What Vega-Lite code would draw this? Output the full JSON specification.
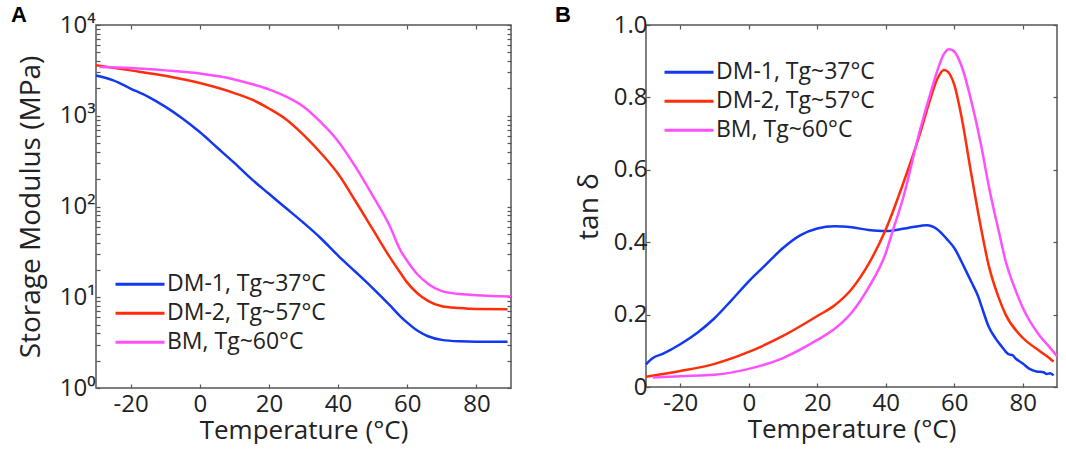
{
  "$schema": "https://vega.github.io/schema/vega-lite/v6.json",
  "background": "white",
  "padding": {"left": 10, "top": 3, "right": 0, "bottom": 0},
  "config": {
    "view": {"stroke": "#555555", "strokeWidth": 1.5},
    "font": "Open Sans",
    "axis": {
      "grid": false,
      "domain": false,
      "tickColor": "#555555",
      "tickWidth": 1.2,
      "tickSize": -4,
      "labelFont": "Open Sans",
      "labelFontSize": 24,
      "labelColor": "#222222",
      "titleFont": "Open Sans",
      "titleFontSize": 26,
      "titleFontWeight": "normal",
      "titleColor": "#222222"
    },
    "legend": {
      "symbolType": "stroke",
      "symbolStrokeWidth": 3,
      "symbolSize": 2400,
      "labelFont": "Open Sans",
      "labelFontSize": 23,
      "labelColor": "#222222",
      "labelOffset": 1,
      "rowPadding": 0,
      "clipHeight": 28.5,
      "padding": 0
    },
    "title": {"font": "Liberation Sans", "fontSize": 22, "fontWeight": "bold", "color": "#000000", "offset": -10}
  },
  "datasets": {
    "modulus": [
      {"sample": "DM-1, Tg~37°C", "T": -30, "E": 2780},
      {"sample": "DM-1, Tg~37°C", "T": -25, "E": 2455},
      {"sample": "DM-1, Tg~37°C", "T": -20, "E": 1995},
      {"sample": "DM-1, Tg~37°C", "T": -15, "E": 1622},
      {"sample": "DM-1, Tg~37°C", "T": -10, "E": 1259},
      {"sample": "DM-1, Tg~37°C", "T": -5, "E": 933},
      {"sample": "DM-1, Tg~37°C", "T": 0, "E": 661},
      {"sample": "DM-1, Tg~37°C", "T": 5, "E": 447},
      {"sample": "DM-1, Tg~37°C", "T": 10, "E": 302},
      {"sample": "DM-1, Tg~37°C", "T": 15, "E": 200},
      {"sample": "DM-1, Tg~37°C", "T": 20, "E": 138},
      {"sample": "DM-1, Tg~37°C", "T": 25, "E": 95.5},
      {"sample": "DM-1, Tg~37°C", "T": 30, "E": 66.1},
      {"sample": "DM-1, Tg~37°C", "T": 35, "E": 44.7},
      {"sample": "DM-1, Tg~37°C", "T": 40, "E": 28.8},
      {"sample": "DM-1, Tg~37°C", "T": 45, "E": 19.1},
      {"sample": "DM-1, Tg~37°C", "T": 50, "E": 12.6},
      {"sample": "DM-1, Tg~37°C", "T": 55, "E": 8.13},
      {"sample": "DM-1, Tg~37°C", "T": 58, "E": 6.17},
      {"sample": "DM-1, Tg~37°C", "T": 60, "E": 5.25},
      {"sample": "DM-1, Tg~37°C", "T": 63, "E": 4.27},
      {"sample": "DM-1, Tg~37°C", "T": 66, "E": 3.72},
      {"sample": "DM-1, Tg~37°C", "T": 70, "E": 3.39},
      {"sample": "DM-1, Tg~37°C", "T": 75, "E": 3.27},
      {"sample": "DM-1, Tg~37°C", "T": 80, "E": 3.24},
      {"sample": "DM-1, Tg~37°C", "T": 89, "E": 3.24},
      {"sample": "DM-2, Tg~57°C", "T": -30, "E": 3597},
      {"sample": "DM-2, Tg~57°C", "T": -20, "E": 3162},
      {"sample": "DM-2, Tg~57°C", "T": -10, "E": 2754},
      {"sample": "DM-2, Tg~57°C", "T": 0, "E": 2291},
      {"sample": "DM-2, Tg~57°C", "T": 10, "E": 1778},
      {"sample": "DM-2, Tg~57°C", "T": 15, "E": 1514},
      {"sample": "DM-2, Tg~57°C", "T": 20, "E": 1202},
      {"sample": "DM-2, Tg~57°C", "T": 25, "E": 912},
      {"sample": "DM-2, Tg~57°C", "T": 30, "E": 617},
      {"sample": "DM-2, Tg~57°C", "T": 35, "E": 389},
      {"sample": "DM-2, Tg~57°C", "T": 40, "E": 229},
      {"sample": "DM-2, Tg~57°C", "T": 45, "E": 115},
      {"sample": "DM-2, Tg~57°C", "T": 50, "E": 56.2},
      {"sample": "DM-2, Tg~57°C", "T": 55, "E": 27.5},
      {"sample": "DM-2, Tg~57°C", "T": 58, "E": 18.6},
      {"sample": "DM-2, Tg~57°C", "T": 60, "E": 14.5},
      {"sample": "DM-2, Tg~57°C", "T": 63, "E": 11.0},
      {"sample": "DM-2, Tg~57°C", "T": 66, "E": 9.12},
      {"sample": "DM-2, Tg~57°C", "T": 70, "E": 7.94},
      {"sample": "DM-2, Tg~57°C", "T": 75, "E": 7.59},
      {"sample": "DM-2, Tg~57°C", "T": 80, "E": 7.41},
      {"sample": "DM-2, Tg~57°C", "T": 89, "E": 7.36},
      {"sample": "BM, Tg~60°C", "T": -29, "E": 3443},
      {"sample": "BM, Tg~60°C", "T": -20, "E": 3350},
      {"sample": "BM, Tg~60°C", "T": -10, "E": 3162},
      {"sample": "BM, Tg~60°C", "T": 0, "E": 2917},
      {"sample": "BM, Tg~60°C", "T": 10, "E": 2512},
      {"sample": "BM, Tg~60°C", "T": 15, "E": 2239},
      {"sample": "BM, Tg~60°C", "T": 20, "E": 1950},
      {"sample": "BM, Tg~60°C", "T": 25, "E": 1622},
      {"sample": "BM, Tg~60°C", "T": 30, "E": 1259},
      {"sample": "BM, Tg~60°C", "T": 35, "E": 851},
      {"sample": "BM, Tg~60°C", "T": 40, "E": 525},
      {"sample": "BM, Tg~60°C", "T": 45, "E": 275},
      {"sample": "BM, Tg~60°C", "T": 50, "E": 132},
      {"sample": "BM, Tg~60°C", "T": 55, "E": 60.3},
      {"sample": "BM, Tg~60°C", "T": 58, "E": 33.1},
      {"sample": "BM, Tg~60°C", "T": 60, "E": 25.1},
      {"sample": "BM, Tg~60°C", "T": 63, "E": 17.8},
      {"sample": "BM, Tg~60°C", "T": 66, "E": 14.1},
      {"sample": "BM, Tg~60°C", "T": 68, "E": 12.6},
      {"sample": "BM, Tg~60°C", "T": 70, "E": 11.7},
      {"sample": "BM, Tg~60°C", "T": 73, "E": 11.1},
      {"sample": "BM, Tg~60°C", "T": 76, "E": 10.8},
      {"sample": "BM, Tg~60°C", "T": 80, "E": 10.5},
      {"sample": "BM, Tg~60°C", "T": 90, "E": 10.2}
    ],
    "tan": [
      {"sample": "DM-1, Tg~37°C", "T": -30, "d": 0.0625},
      {"sample": "DM-1, Tg~37°C", "T": -28, "d": 0.08},
      {"sample": "DM-1, Tg~37°C", "T": -25, "d": 0.092},
      {"sample": "DM-1, Tg~37°C", "T": -20, "d": 0.118},
      {"sample": "DM-1, Tg~37°C", "T": -15, "d": 0.15},
      {"sample": "DM-1, Tg~37°C", "T": -10, "d": 0.19},
      {"sample": "DM-1, Tg~37°C", "T": -5, "d": 0.24},
      {"sample": "DM-1, Tg~37°C", "T": 0, "d": 0.292},
      {"sample": "DM-1, Tg~37°C", "T": 5, "d": 0.338},
      {"sample": "DM-1, Tg~37°C", "T": 10, "d": 0.384},
      {"sample": "DM-1, Tg~37°C", "T": 15, "d": 0.419},
      {"sample": "DM-1, Tg~37°C", "T": 20, "d": 0.438},
      {"sample": "DM-1, Tg~37°C", "T": 25, "d": 0.444},
      {"sample": "DM-1, Tg~37°C", "T": 30, "d": 0.441},
      {"sample": "DM-1, Tg~37°C", "T": 35, "d": 0.434},
      {"sample": "DM-1, Tg~37°C", "T": 40, "d": 0.431},
      {"sample": "DM-1, Tg~37°C", "T": 45, "d": 0.437},
      {"sample": "DM-1, Tg~37°C", "T": 48, "d": 0.442},
      {"sample": "DM-1, Tg~37°C", "T": 52, "d": 0.447},
      {"sample": "DM-1, Tg~37°C", "T": 55, "d": 0.436},
      {"sample": "DM-1, Tg~37°C", "T": 58, "d": 0.407},
      {"sample": "DM-1, Tg~37°C", "T": 60, "d": 0.384},
      {"sample": "DM-1, Tg~37°C", "T": 63, "d": 0.329},
      {"sample": "DM-1, Tg~37°C", "T": 65, "d": 0.29},
      {"sample": "DM-1, Tg~37°C", "T": 67, "d": 0.25},
      {"sample": "DM-1, Tg~37°C", "T": 68, "d": 0.222},
      {"sample": "DM-1, Tg~37°C", "T": 70, "d": 0.168},
      {"sample": "DM-1, Tg~37°C", "T": 72, "d": 0.135},
      {"sample": "DM-1, Tg~37°C", "T": 74, "d": 0.11},
      {"sample": "DM-1, Tg~37°C", "T": 75, "d": 0.098},
      {"sample": "DM-1, Tg~37°C", "T": 76, "d": 0.09},
      {"sample": "DM-1, Tg~37°C", "T": 77, "d": 0.088},
      {"sample": "DM-1, Tg~37°C", "T": 78, "d": 0.078},
      {"sample": "DM-1, Tg~37°C", "T": 80, "d": 0.065},
      {"sample": "DM-1, Tg~37°C", "T": 82, "d": 0.05},
      {"sample": "DM-1, Tg~37°C", "T": 84, "d": 0.043},
      {"sample": "DM-1, Tg~37°C", "T": 86, "d": 0.041},
      {"sample": "DM-1, Tg~37°C", "T": 87, "d": 0.036},
      {"sample": "DM-1, Tg~37°C", "T": 88, "d": 0.038},
      {"sample": "DM-1, Tg~37°C", "T": 89, "d": 0.032},
      {"sample": "DM-2, Tg~57°C", "T": -30, "d": 0.0285},
      {"sample": "DM-2, Tg~57°C", "T": -20, "d": 0.044},
      {"sample": "DM-2, Tg~57°C", "T": -10, "d": 0.064},
      {"sample": "DM-2, Tg~57°C", "T": 0, "d": 0.097},
      {"sample": "DM-2, Tg~57°C", "T": 10, "d": 0.141},
      {"sample": "DM-2, Tg~57°C", "T": 20, "d": 0.196},
      {"sample": "DM-2, Tg~57°C", "T": 25, "d": 0.225},
      {"sample": "DM-2, Tg~57°C", "T": 30, "d": 0.27},
      {"sample": "DM-2, Tg~57°C", "T": 35, "d": 0.34},
      {"sample": "DM-2, Tg~57°C", "T": 40, "d": 0.435},
      {"sample": "DM-2, Tg~57°C", "T": 45, "d": 0.56},
      {"sample": "DM-2, Tg~57°C", "T": 50, "d": 0.70},
      {"sample": "DM-2, Tg~57°C", "T": 53, "d": 0.795},
      {"sample": "DM-2, Tg~57°C", "T": 55, "d": 0.85},
      {"sample": "DM-2, Tg~57°C", "T": 57, "d": 0.876},
      {"sample": "DM-2, Tg~57°C", "T": 58, "d": 0.872},
      {"sample": "DM-2, Tg~57°C", "T": 60, "d": 0.835},
      {"sample": "DM-2, Tg~57°C", "T": 62, "d": 0.752},
      {"sample": "DM-2, Tg~57°C", "T": 65, "d": 0.587},
      {"sample": "DM-2, Tg~57°C", "T": 68, "d": 0.43},
      {"sample": "DM-2, Tg~57°C", "T": 70, "d": 0.338},
      {"sample": "DM-2, Tg~57°C", "T": 73, "d": 0.246},
      {"sample": "DM-2, Tg~57°C", "T": 75, "d": 0.20},
      {"sample": "DM-2, Tg~57°C", "T": 80, "d": 0.136},
      {"sample": "DM-2, Tg~57°C", "T": 85, "d": 0.099},
      {"sample": "DM-2, Tg~57°C", "T": 88, "d": 0.078},
      {"sample": "DM-2, Tg~57°C", "T": 89, "d": 0.07},
      {"sample": "BM, Tg~60°C", "T": -28, "d": 0.026},
      {"sample": "BM, Tg~60°C", "T": -20, "d": 0.030},
      {"sample": "BM, Tg~60°C", "T": -10, "d": 0.034},
      {"sample": "BM, Tg~60°C", "T": 0, "d": 0.05},
      {"sample": "BM, Tg~60°C", "T": 10, "d": 0.08},
      {"sample": "BM, Tg~60°C", "T": 20, "d": 0.13},
      {"sample": "BM, Tg~60°C", "T": 25, "d": 0.16},
      {"sample": "BM, Tg~60°C", "T": 30, "d": 0.205},
      {"sample": "BM, Tg~60°C", "T": 35, "d": 0.275},
      {"sample": "BM, Tg~60°C", "T": 40, "d": 0.37},
      {"sample": "BM, Tg~60°C", "T": 42, "d": 0.43},
      {"sample": "BM, Tg~60°C", "T": 45, "d": 0.52},
      {"sample": "BM, Tg~60°C", "T": 50, "d": 0.71},
      {"sample": "BM, Tg~60°C", "T": 53, "d": 0.81},
      {"sample": "BM, Tg~60°C", "T": 55, "d": 0.872},
      {"sample": "BM, Tg~60°C", "T": 57, "d": 0.92},
      {"sample": "BM, Tg~60°C", "T": 58.5, "d": 0.933},
      {"sample": "BM, Tg~60°C", "T": 60, "d": 0.927},
      {"sample": "BM, Tg~60°C", "T": 62, "d": 0.89},
      {"sample": "BM, Tg~60°C", "T": 65, "d": 0.789},
      {"sample": "BM, Tg~60°C", "T": 68, "d": 0.66},
      {"sample": "BM, Tg~60°C", "T": 70, "d": 0.559},
      {"sample": "BM, Tg~60°C", "T": 73, "d": 0.43},
      {"sample": "BM, Tg~60°C", "T": 75, "d": 0.348},
      {"sample": "BM, Tg~60°C", "T": 78, "d": 0.265},
      {"sample": "BM, Tg~60°C", "T": 80, "d": 0.219},
      {"sample": "BM, Tg~60°C", "T": 85, "d": 0.141},
      {"sample": "BM, Tg~60°C", "T": 88, "d": 0.108},
      {"sample": "BM, Tg~60°C", "T": 90, "d": 0.085}
    ]
  },
  "resolve": {"scale": {"color": "independent"}, "legend": {"color": "independent"}},
  "spacing": 37,
  "hconcat": [
    {
      "width": 415,
      "height": 363,
      "title": {"text": "A", "anchor": "start", "frame": "group", "dx": -85, "dy": 4},
      "data": {"name": "modulus"},
      "layer": [
        {
          "mark": {"type": "line", "strokeWidth": 2.5, "interpolate": "monotone"},
          "encoding": {
            "x": {"field": "T", "type": "quantitative", "scale": {"domain": [-30, 90], "nice": false},
              "axis": {"orient": "bottom", "values": [-20, 0, 20, 40, 60, 80], "title": "Temperature (°C)", "labelPadding": 8, "titlePadding": 1,
                "labelExpr": "datum.value < 0 ? '-' + abs(datum.value) : '' + datum.value"}},
            "y": {"field": "E", "type": "quantitative", "scale": {"type": "log", "domain": [1, 10000], "nice": false},
              "axis": {"orient": "left", "values": [1,2,3,4,5,6,7,8,9,10,20,30,40,50,60,70,80,90,100,200,300,400,500,600,700,800,900,1000,2000,3000,4000,5000,6000,7000,8000,9000,10000],
                "labelExpr": "datum.value == 1 ? '10⁰' : datum.value == 10 ? '10¹' : datum.value == 100 ? '10²' : datum.value == 1000 ? '10³' : datum.value == 10000 ? '10⁴' : ''",
                "title": "Storage Modulus (MPa)", "titleFontSize": 28, "labelPadding": 5, "titlePadding": 14}},
            "color": {"field": "sample", "type": "nominal",
              "scale": {"domain": ["DM-1, Tg~37°C", "DM-2, Tg~57°C", "BM, Tg~60°C"], "range": ["#1238f2", "#ff2e0a", "#ff50ff"]},
              "legend": {"title": null, "orient": "none", "legendX": 18, "legendY": 245}}
          }
        },
        {
          "mark": {"type": "line", "opacity": 0},
          "encoding": {
            "x": {"field": "T", "type": "quantitative", "axis": {"orient": "top", "values": [-20, 0, 20, 40, 60, 80], "labels": false, "title": null}},
            "y": {"field": "E", "type": "quantitative", "scale": {"type": "log"},
              "axis": {"orient": "right", "values": [1,2,3,4,5,6,7,8,9,10,20,30,40,50,60,70,80,90,100,200,300,400,500,600,700,800,900,1000,2000,3000,4000,5000,6000,7000,8000,9000,10000], "labels": false, "title": null}}
          }
        }
      ],
      "resolve": {"axis": {"x": "independent", "y": "independent"}}
    },
    {
      "width": 411,
      "height": 362,
      "title": {"text": "B", "anchor": "start", "frame": "group", "dx": -91, "dy": 4},
      "data": {"name": "tan"},
      "layer": [
        {
          "mark": {"type": "line", "strokeWidth": 2.5, "interpolate": "monotone"},
          "encoding": {
            "x": {"field": "T", "type": "quantitative", "scale": {"domain": [-30, 90], "nice": false},
              "axis": {"orient": "bottom", "values": [-20, 0, 20, 40, 60, 80], "title": "Temperature (°C)", "labelPadding": 8, "titlePadding": 1,
                "labelExpr": "datum.value < 0 ? '-' + abs(datum.value) : '' + datum.value"}},
            "y": {"field": "d", "type": "quantitative", "scale": {"domain": [0, 1], "nice": false},
              "axis": {"orient": "left", "values": [0, 0.2, 0.4, 0.6, 0.8, 1.0],
                "labelExpr": "datum.value == 0 ? '0' : format(datum.value, '.1f')",
                "title": "tan δ", "titleFontSize": 28, "labelPadding": 3, "titlePadding": 10}},
            "color": {"field": "sample", "type": "nominal",
              "scale": {"domain": ["DM-1, Tg~37°C", "DM-2, Tg~57°C", "BM, Tg~60°C"], "range": ["#1238f2", "#ff2e0a", "#ff50ff"]},
              "legend": {"title": null, "orient": "none", "legendX": 17, "legendY": 33}}
          }
        },
        {
          "mark": {"type": "line", "opacity": 0},
          "encoding": {
            "x": {"field": "T", "type": "quantitative", "axis": {"orient": "top", "values": [-20, 0, 20, 40, 60, 80], "labels": false, "title": null}},
            "y": {"field": "d", "type": "quantitative", "axis": {"orient": "right", "values": [0, 0.2, 0.4, 0.6, 0.8, 1.0], "labels": false, "title": null}}
          }
        }
      ],
      "resolve": {"axis": {"x": "independent", "y": "independent"}}
    }
  ]
}
